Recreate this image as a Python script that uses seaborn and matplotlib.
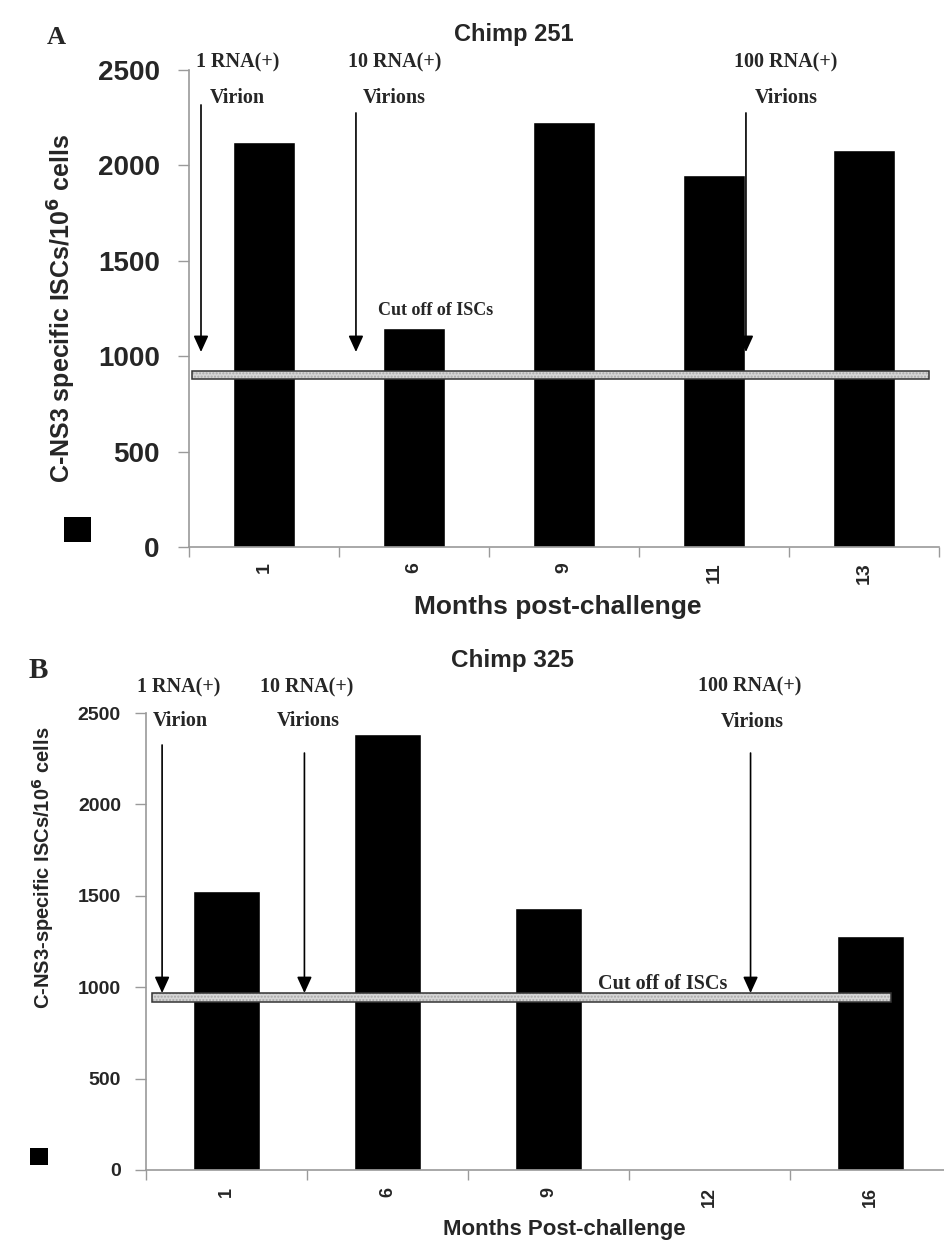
import numpy as np
import matplotlib
matplotlib.use('Agg')
import matplotlib.pyplot as plt
from matplotlib.patches import Rectangle
import seaborn as sns

sns.set_theme(style='white')
plt.rcParams['font.family'] = ['Liberation Sans', 'DejaVu Sans']

# ── Data ─────────────────────────────────────────────────────
months_251 = ['1', '6', '9', '11', '13']
iscs_251 = [2125, 1150, 2225, 1950, 2080]
cutoff_251 = (880, 922)

months_325 = ['1', '6', '9', '12', '16']
iscs_325 = [1525, 2385, 1435, 0, 1280]
cutoff_325 = (920, 968)

dose_labels = ['1 RNA(+)', '10 RNA(+)', '100 RNA(+)']
dose_units = ['Virion', 'Virions', 'Virions']

W, H = 944, 1248
fig = plt.figure(figsize=(W / 100, H / 100), dpi=100)


def px(x, y):
    return x / W, 1 - y / H


SERIF = ['Liberation Serif', 'DejaVu Serif']


def draw_panel(ax, months, iscs, cutoff, cfg):
    sns.barplot(x=months, y=iscs, order=months, color='black', width=cfg['bar_w'],
                saturation=1, ax=ax, zorder=2)
    ax.set_xlim(-0.5, 4.5)
    ax.set_ylim(0, 2500)
    ax.set_yticks(range(0, 2501, 500))
    ax.set_xlabel('')
    ax.set_ylabel('')
    for s in ['top', 'right']:
        ax.spines[s].set_visible(False)
    for s in ['left', 'bottom']:
        ax.spines[s].set_color('#9a9a9a')
        ax.spines[s].set_linewidth(1.2)

    ax.set_xticks(np.arange(-0.5, 5, 1), minor=True)
    ax.tick_params(axis='x', which='major', length=0, pad=cfg['xpad'],
                   labelsize=cfg['xtick_fs'], labelrotation=90)
    ax.tick_params(axis='x', which='minor', length=7, width=1, color='#9a9a9a',
                   direction='out', bottom=True)
    ax.tick_params(axis='y', which='major', length=cfg['ytick_len'], width=1, color='#9a9a9a',
                   direction='out', left=True, pad=cfg['ypad'], labelsize=cfg['ytick_fs'])
    for lab in ax.get_xticklabels() + ax.get_yticklabels():
        lab.set_fontweight('bold')

    # cut-off band
    lo, hi = cutoff
    x0, x1 = cfg['band_x']
    ax.add_patch(Rectangle((x0, lo), x1 - x0, hi - lo, facecolor='#d6d6d6',
                           edgecolor='#a8a8a8', hatch='.....', lw=0, zorder=3))
    ax.add_patch(Rectangle((x0, lo), x1 - x0, hi - lo, facecolor='none',
                           edgecolor='#333333', lw=1.1, zorder=3.1))

    # inoculation arrows and labels
    for i in range(3):
        ax_x = cfg['arrow_x'][i]
        ax.annotate('', xy=(ax_x, cfg['arrow_tip']), xytext=(ax_x, cfg['arrow_top'][i]),
                    arrowprops=dict(arrowstyle='-|>,head_length=0.7,head_width=0.32',
                                    color='black', lw=1.2, shrinkA=0, shrinkB=0,
                                    mutation_scale=14), zorder=4)
        tx, ty = cfg['lab1'][i]
        ax.text(tx, ty, dose_labels[i], ha='left', va='center', fontsize=cfg['ann_fs'],
                fontweight='bold', family=SERIF, clip_on=False)
        tx, ty = cfg['lab2'][i]
        ax.text(tx, ty, dose_units[i], ha='left', va='center', fontsize=cfg['ann_fs'],
                fontweight='bold', family=SERIF, clip_on=False)
    tx, ty = cfg['cut_pos']
    ax.text(tx, ty, 'Cut off of ISCs', ha='left', va='center', fontsize=cfg['cut_fs'],
            fontweight='bold', family=SERIF, clip_on=False, zorder=5)


# ── Panel A ──────────────────────────────────────────────────
axA = fig.add_axes([189 / W, 1 - 547 / H, 750 / W, 477 / H])
draw_panel(axA, months_251, iscs_251, cutoff_251, dict(
    bar_w=0.41, xpad=11, xtick_fs=14, ytick_len=8, ypad=13, ytick_fs=20,
    band_x=(-0.48, 4.43),
    arrow_x=[-0.42, 0.613, 3.213], arrow_top=[2317, 2275, 2275], arrow_tip=1022,
    lab1=[(-0.453, 2537), (0.56, 2537), (3.133, 2537)],
    lab2=[(-0.36, 2353), (0.66, 2353), (3.273, 2353)],
    ann_fs=14.5, cut_pos=(0.76, 1237), cut_fs=13))

fig.text(*px(56, 37), 'A', fontsize=19, fontweight='bold', family=SERIF, ha='center', va='center')
fig.text(*px(514, 35), 'Chimp 251', fontsize=17, fontweight='bold', ha='center', va='center')
fig.text(*px(62, 309), r'C-NS3 specific ISCs/10$^{\mathbf{6}}$ cells', fontsize=18,
         fontweight='bold', rotation=90, ha='center', va='center')
fig.text(*px(558, 607), 'Months post-challenge', fontsize=19, fontweight='bold',
         ha='center', va='center')
fig.patches.append(Rectangle(px(64, 542), 27 / W, 25 / H, transform=fig.transFigure,
                             facecolor='black', edgecolor='none', figure=fig))

# ── Panel B ──────────────────────────────────────────────────
axB = fig.add_axes([146 / W, 1 - 1170 / H, 805 / W, 457 / H])
draw_panel(axB, months_325, iscs_325, cutoff_325, dict(
    bar_w=0.42, xpad=12, xtick_fs=13, ytick_len=8, ypad=10, ytick_fs=14,
    band_x=(-0.46, 4.13),
    arrow_x=[-0.40, 0.484, 3.255], arrow_top=[2325, 2281, 2281], arrow_tip=968,
    lab1=[(-0.553, 2637), (0.205, 2637), (2.93, 2643)],
    lab2=[(-0.46, 2456), (0.31, 2456), (3.07, 2450)],
    ann_fs=14.5, cut_pos=(2.31, 1017), cut_fs=14.5))

fig.text(*px(38, 670), 'B', fontsize=21, fontweight='bold', family=SERIF, ha='center', va='center')
fig.text(*px(512, 660), 'Chimp 325', fontsize=17.5, fontweight='bold', ha='center', va='center')
fig.text(*px(43, 868), r'C-NS3-specific ISCs/10$^{\mathbf{6}}$ cells', fontsize=14.5,
         fontweight='bold', rotation=90, ha='center', va='center')
fig.text(*px(564, 1230), 'Months Post-challenge', fontsize=16, fontweight='bold',
         ha='center', va='center')
fig.patches.append(Rectangle(px(30, 1165), 18 / W, 17 / H, transform=fig.transFigure,
                             facecolor='black', edgecolor='none', figure=fig))

plt.savefig('out.png', dpi=100)
